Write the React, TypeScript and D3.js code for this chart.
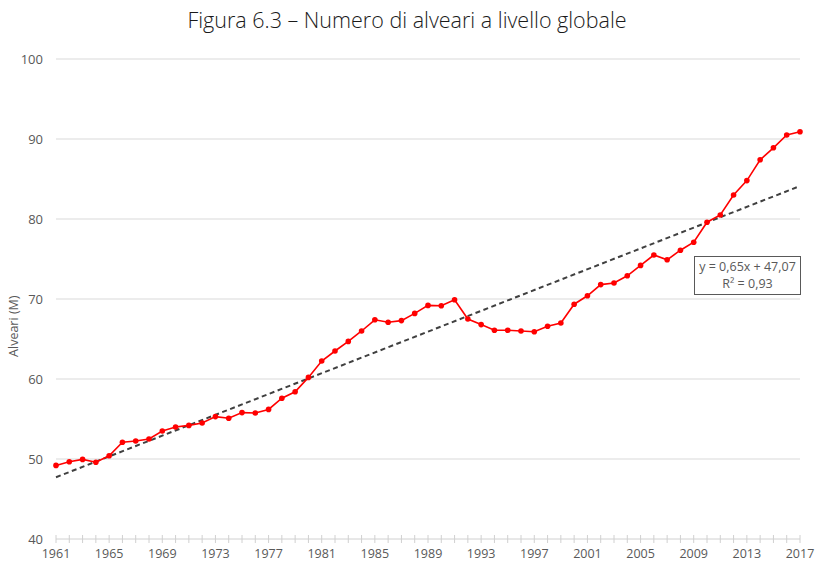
import React, { useEffect, useRef } from "react";
import * as d3 from "d3";

const years: number[] = [
  1961, 1962, 1963, 1964, 1965, 1966, 1967, 1968, 1969, 1970,
  1971, 1972, 1973, 1974, 1975, 1976, 1977, 1978, 1979, 1980,
  1981, 1982, 1983, 1984, 1985, 1986, 1987, 1988, 1989, 1990,
  1991, 1992, 1993, 1994, 1995, 1996, 1997, 1998, 1999, 2000,
  2001, 2002, 2003, 2004, 2005, 2006, 2007, 2008, 2009, 2010,
  2011, 2012, 2013, 2014, 2015, 2016, 2017,
];

const hives: number[] = [
  49.2, 49.65, 49.95, 49.6, 50.4, 52.1, 52.25, 52.5, 53.5, 54.0,
  54.2, 54.5, 55.3, 55.1, 55.8, 55.75, 56.2, 57.6, 58.4, 60.2,
  62.25, 63.5, 64.7, 66.0, 67.4, 67.1, 67.3, 68.2, 69.2, 69.15,
  69.9, 67.5, 66.8, 66.1, 66.1, 66.0, 65.9, 66.6, 67.0, 69.35,
  70.4, 71.8, 72.0, 72.9, 74.2, 75.5, 74.9, 76.1, 77.1, 79.6,
  80.5, 83.0, 84.8, 87.4, 88.9, 90.5, 90.9,
];

const yTicks: number[] = [40, 50, 60, 70, 80, 90, 100];
const xLabelYears: number[] = [1961, 1965, 1969, 1973, 1977, 1981, 1985, 1989, 1993, 1997, 2001, 2005, 2009, 2013, 2017];

const trendSlope = 0.65;
const trendIntercept = 47.07;
const trendLabel1 = "y = 0,65x + 47,07";
const trendLabel2 = "R² = 0,93";

const title = "Figura 6.3 – Numero di alveari a livello globale";
const yTitle = "Alveari (M)";

export default function App() {
  const ref = useRef<SVGSVGElement | null>(null);

  useEffect(() => {
    const W = 818, H = 564;
    const m = { top: 59, right: 18, bottom: 25, left: 56 };
    const svg = d3.select(ref.current);
    svg.selectAll("*").remove();

    const x = d3.scaleLinear().domain([1961, 2017]).range([m.left, W - m.right]);
    const y = d3.scaleLinear().domain([40, 100]).range([H - m.bottom, m.top]);
    const font = "'Open Sans', 'Noto Sans', sans-serif";

    // title
    svg.append("text")
      .attr("x", 407).attr("y", 28)
      .attr("text-anchor", "middle")
      .attr("font-family", font)
      .attr("font-size", 21.5)
      .attr("font-weight", 300)
      .attr("fill", "#1a1a1a")
      .text(title);

    // gridlines
    svg.append("g").selectAll("line")
      .data(yTicks.filter((t) => t > 40))
      .join("line")
      .attr("x1", x(1961)).attr("x2", x(2017))
      .attr("y1", (d) => y(d)).attr("y2", (d) => y(d))
      .attr("stroke", "#d9d9d9").attr("stroke-width", 1);

    // y tick labels
    svg.append("g").selectAll("text")
      .data(yTicks)
      .join("text")
      .attr("x", 43).attr("y", (d) => y(d))
      .attr("dy", "0.35em")
      .attr("text-anchor", "end")
      .attr("font-family", font)
      .attr("font-size", 13)
      .attr("fill", "#595959")
      .text((d) => String(d));

    // x axis line
    svg.append("line")
      .attr("x1", x(1961)).attr("x2", x(2017))
      .attr("y1", y(40)).attr("y2", y(40))
      .attr("stroke", "#d0d0d0").attr("stroke-width", 1);

    svg.append("g").selectAll("line")
      .data(years)
      .join("line")
      .attr("x1", (d) => x(d)).attr("x2", (d) => x(d))
      .attr("y1", y(40) - 4).attr("y2", y(40) + 4)
      .attr("stroke", "#d0d0d0").attr("stroke-width", 1);

    svg.append("g").selectAll("text")
      .data(xLabelYears)
      .join("text")
      .attr("x", (d) => x(d)).attr("y", 558)
      .attr("text-anchor", "middle")
      .attr("font-family", font)
      .attr("font-size", 12.5)
      .attr("fill", "#595959")
      .text((d) => String(d));

    // y title
    svg.append("text")
      .attr("transform", `translate(18, ${y(66.6)}) rotate(-90)`)
      .attr("text-anchor", "middle")
      .attr("font-family", font)
      .attr("font-size", 12.5)
      .attr("fill", "#595959")
      .text(yTitle);

    // trend line
    const trend = (yr: number) => trendSlope * (yr - 1960) + trendIntercept;
    svg.append("line")
      .attr("x1", x(1961)).attr("y1", y(trend(1961)))
      .attr("x2", x(2017)).attr("y2", y(trend(2017)))
      .attr("stroke", "#404040")
      .attr("stroke-width", 2)
      .attr("stroke-dasharray", "5,3.5");

    // series
    const data = years.map((yr, i) => ({ yr, v: hives[i] }));
    const line = d3.line<{ yr: number; v: number }>().x((d) => x(d.yr)).y((d) => y(d.v));
    svg.append("path")
      .datum(data)
      .attr("d", line)
      .attr("fill", "none")
      .attr("stroke", "#ff0000")
      .attr("stroke-width", 1.6);

    svg.append("g").selectAll("circle")
      .data(data)
      .join("circle")
      .attr("cx", (d) => x(d.yr)).attr("cy", (d) => y(d.v))
      .attr("r", 2.8)
      .attr("fill", "#ff0000");

    // trend label box
    const bx = 694, by = 256, bw = 106, bh = 38;
    svg.append("rect")
      .attr("x", bx + 0.5).attr("y", by + 0.5)
      .attr("width", bw).attr("height", bh)
      .attr("fill", "#ffffff")
      .attr("stroke", "#595959").attr("stroke-width", 1);
    svg.append("text")
      .attr("x", bx + bw / 2 + 0.5).attr("y", by + 15)
      .attr("text-anchor", "middle")
      .attr("font-family", font)
      .attr("font-size", 12.5)
      .attr("fill", "#595959")
      .text(trendLabel1);
    svg.append("text")
      .attr("x", bx + bw / 2 + 0.5).attr("y", by + 32)
      .attr("text-anchor", "middle")
      .attr("font-family", font)
      .attr("font-size", 12.5)
      .attr("fill", "#595959")
      .text(trendLabel2);
  }, []);

  return (
    <svg
      ref={ref}
      width={818}
      height={564}
      style={{ position: "absolute", left: 0, top: 0, background: "#fff" }}
    />
  );
}
